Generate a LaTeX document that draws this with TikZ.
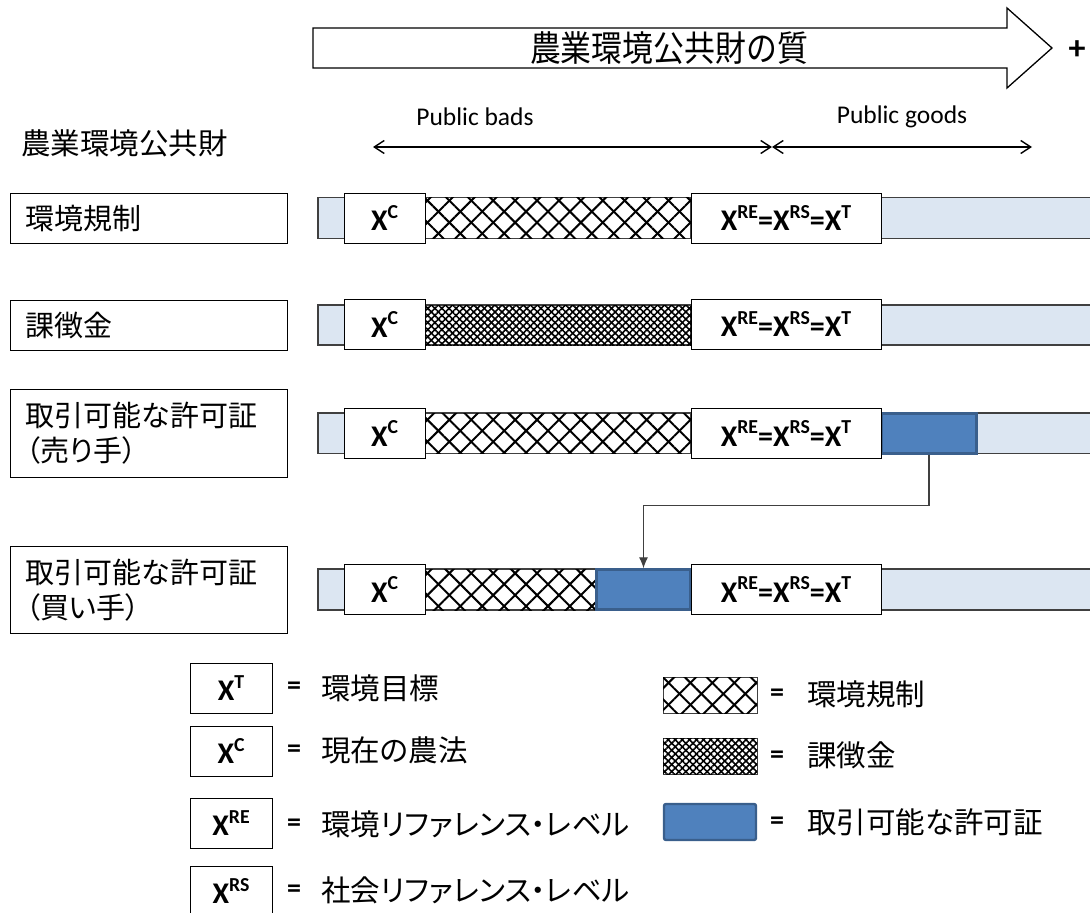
\documentclass[tikz,border=0pt]{standalone}
\usepackage{fontspec}
\setmainfont{Carlito}
\newfontfamily\jp[RawFeature=+palt]{Noto Sans CJK JP}
\newfontfamily\jpfix{Noto Sans CJK JP}
\newfontfamily\jptitle[FakeStretch=0.87]{Noto Sans CJK JP}
\usetikzlibrary{patterns.meta,arrows.meta}
\definecolor{barblue}{HTML}{DCE6F2}
\definecolor{permitblue}{HTML}{4F81BD}
\definecolor{permitedge}{HTML}{3A5F8C}
\definecolor{edgegray}{HTML}{404040}
\newcommand\Xs[1]{X\raisebox{0.42em}{\scalebox{0.66}{#1}}}
\tikzset{
  labelbox/.style={draw=black, line width=1.1pt, minimum width=277pt, minimum height=50pt,
    anchor=north west, text width=247pt, inner xsep=15pt, inner ysep=4pt, align=left,
    font=\jpfix\fontsize{29}{35}\selectfont},
  xbox/.style={draw=black, fill=white, line width=1pt, minimum height=50pt, inner sep=0pt,
    font=\bfseries\fontsize{30}{36}\selectfont},
  barbg/.style={draw=edgegray, fill=barblue, line width=1.2pt},
  hatchbg/.style={draw=edgegray, fill=white, line width=1.2pt},
  bigx/.style={pattern={Lines[angle=45,distance=15.5pt,line width=2pt]}},
  bigxb/.style={pattern={Lines[angle=-45,distance=15.5pt,line width=2pt]}},
  smallx/.style={pattern={Lines[angle=45,distance=5pt,line width=1.6pt]}},
  smallxb/.style={pattern={Lines[angle=-45,distance=5pt,line width=1.6pt]}},
  permit/.style={draw=permitedge, fill=permitblue, line width=2.4pt, inner sep=0pt},
  conn/.style={draw=edgegray, line width=1.1pt},
  jptext/.style={font=\jp\fontsize{29.5}{35}\selectfont, inner sep=0pt},
  eqtext/.style={font=\bfseries\fontsize{28}{30}\selectfont, inner sep=0pt},
  latin/.style={font=\fontsize{25.5}{30}\selectfont, inner sep=0pt},
  dbl/.style={draw=black, line width=1.4pt, {Straight Barb[length=10pt,width=13pt]}-{Straight Barb[length=10pt,width=13pt]}}
}
\begin{document}
\begin{tikzpicture}[x=1pt,y=-1pt]
\path[use as bounding box] (0,0) rectangle (1090,913);
\clip (0,0) rectangle (1090,913);

% header arrow
\draw[line width=1.3pt, fill=white] (313,28) -- (1007,28) -- (1007,8) -- (1052,48) -- (1007,88) -- (1007,68) -- (313,68) -- cycle;
\node[font=\jptitle\fontsize{35.5}{40}\selectfont, inner sep=0pt] (title) at (669,48) {農業環境公共財の質};
\node[font=\bfseries\fontsize{34}{36}\selectfont, inner sep=0pt] (plus) at (1077,50) {+};

% public bads / goods
\node[latin] (pb) at (475,117) {Public bads};
\node[latin] (pg) at (902,117) {Public goods};
\coordinate (a1) at (373,147);
\coordinate (a2) at (772,147);
\coordinate (a3) at (1032,147);
\draw[dbl] (a1) -- (a2);
\draw[dbl] (a2) -- (a3);

\node[jptext, anchor=west] (head) at (21,143) {\jpfix 農業環境公共財};

% left label boxes
\node[labelbox] (l1) at (10,193) {環境規制};
\node[labelbox] (l2) at (10,300) {課徴金};
\node[labelbox, minimum height=88pt] (l3) at (10,389) {取引可能な許可証\\{\jp（売り手）}};
\node[labelbox, minimum height=87pt] (l4) at (10,546) {取引可能な許可証\\{\jp（買い手）}};

% row 1
\draw[barbg] (318,197.5) rectangle (1100,238.5);
\draw[hatchbg] (425,197.5) rectangle (691,238.5);
\fill[bigx] (425,197.5) rectangle (691,238.5);
\fill[bigxb] (425,197.5) rectangle (691,238.5);
\node[xbox, minimum width=81pt] (c1) at (384.5,218) {\Xs{C}};
\node[xbox, minimum width=190pt] (r1) at (786,218) {\Xs{RE}=\Xs{RS}=\Xs{T}};

% row 2
\draw[barbg] (318,305) rectangle (1100,345);
\draw[hatchbg] (425,305) rectangle (691,345);
\fill[smallx] (425,305) rectangle (691,345);
\fill[smallxb] (425,305) rectangle (691,345);
\node[xbox, minimum width=81pt] (c2) at (384.5,324.5) {\Xs{C}};
\node[xbox, minimum width=190pt] (r2) at (786,324) {\Xs{RE}=\Xs{RS}=\Xs{T}};

% row 3
\draw[barbg] (318,413) rectangle (1100,453.5);
\draw[hatchbg] (425,413) rectangle (691,453.5);
\fill[bigx] (425,413) rectangle (691,453.5);
\fill[bigxb] (425,413) rectangle (691,453.5);
\node[permit, minimum width=95pt, minimum height=40pt] (s) at (929,433.5) {};
\node[xbox, minimum width=81pt] (c3) at (384.5,433.5) {\Xs{C}};
\node[xbox, minimum width=190pt] (r3) at (786,433.5) {\Xs{RE}=\Xs{RS}=\Xs{T}};

% row 4
\draw[barbg] (318,569) rectangle (1100,610);
\draw[hatchbg] (425,569) rectangle (596,610);
\fill[bigx] (425,569) rectangle (596,610);
\fill[bigxb] (425,569) rectangle (596,610);
\node[permit, minimum width=94pt, minimum height=40pt] (b) at (643.5,589.5) {};
\node[xbox, minimum width=81pt] (c4) at (384.5,589.5) {\Xs{C}};
\node[xbox, minimum width=190pt] (r4) at (786,589.5) {\Xs{RE}=\Xs{RS}=\Xs{T}};

% transfer connector
\draw[conn, -{Latex[length=11pt,width=9pt]}] (s.south) -- ++(0,50.5) -| (b.north);

% legend left
\node[xbox, minimum width=82pt] (lt) at (231,688) {\Xs{T}};
\node[xbox, minimum width=82pt] (lc) at (231,751) {\Xs{C}};
\node[xbox, minimum width=82pt] (lre) at (231,823) {\Xs{RE}};
\node[xbox, minimum width=82pt] (lrs) at (231,891) {\Xs{RS}};
\node[eqtext] (e1) at (294,688) {=};
\node[eqtext] (e2) at (294,751) {=};
\node[eqtext] (e3) at (294,825) {=};
\node[eqtext] (e4) at (294,891) {=};
\node[jptext, anchor=west] (t1) at (321,688) {環境目標};
\node[jptext, anchor=west] (t2) at (321,750) {現在の農法};
\node[jptext, anchor=west] (t3) at (321,824) {環境リファレンス・レベル};
\node[jptext, anchor=west] (t4) at (321,890) {社会リファレンス・レベル};

% legend right
\draw[draw=edgegray, fill=white, line width=1pt] (663,677) rectangle (757,713);
\fill[bigx] (663,677) rectangle (757,713);
\fill[bigxb] (663,677) rectangle (757,713);
\node[inner sep=0pt, minimum width=94pt, minimum height=36pt] (g1) at (710,695) {};
\draw[draw=edgegray, fill=white, line width=1pt] (663,738) rectangle (757,774);
\fill[smallx] (663,738) rectangle (757,774);
\fill[smallxb] (663,738) rectangle (757,774);
\node[inner sep=0pt, minimum width=94pt, minimum height=36pt] (g2) at (710,756) {};
\node[permit, rounded corners=2pt, minimum width=92pt, minimum height=36pt] (g3) at (710,822) {};
\node[eqtext] (e5) at (777,695) {=};
\node[eqtext] (e6) at (777,757) {=};
\node[eqtext] (e7) at (777,823) {=};
\node[jptext, anchor=west] (t5) at (807,694) {環境規制};
\node[jptext, anchor=west] (t6) at (807,755) {課徴金};
\node[jptext, anchor=west] (t7) at (807,822) {取引可能な許可証};
\end{tikzpicture}
\end{document}
